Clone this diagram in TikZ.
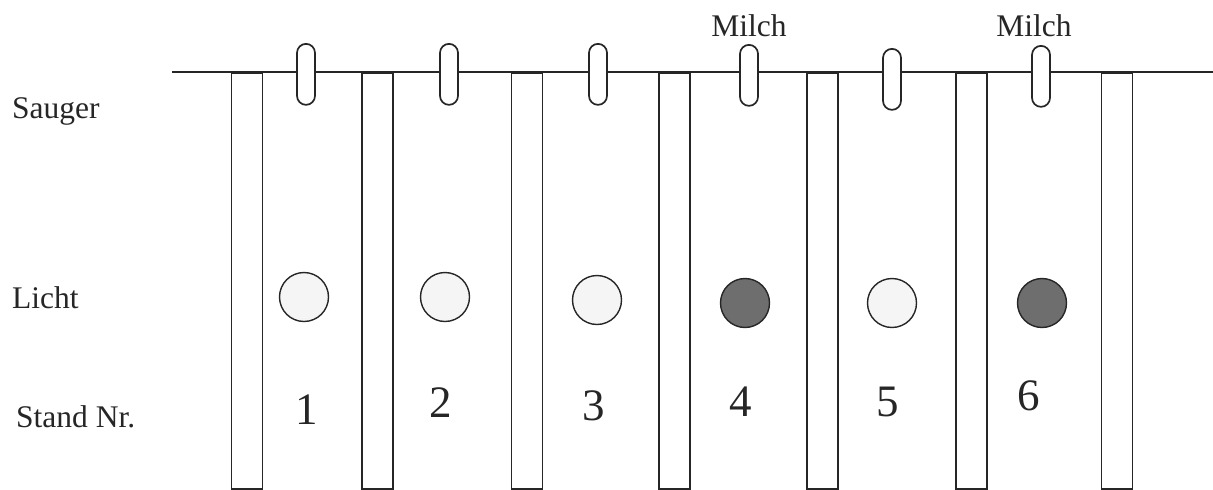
\documentclass[tikz,border=0pt]{standalone}
\usepackage{fontspec}
\setmainfont{Liberation Serif}
\begin{document}
\begin{tikzpicture}[x=1pt,y=-1pt,
  ink/.style={draw=black!85, line width=1.7pt},
  post/.style={ink, fill=white, rectangle, inner sep=0pt, outer sep=0pt, minimum width=31pt, minimum height=416pt, anchor=north},
  teat/.style={ink, fill=white, rectangle, rounded corners=9pt, inner sep=0pt, minimum width=18pt, minimum height=61pt, anchor=north},
  light/.style={draw=black!85, line width=1.4pt, circle, inner sep=0pt, minimum size=49pt},
  off/.style={light, fill=black!4},
  on/.style={light, fill=black!57},
  lbl/.style={font=\fontsize{31.5}{33}\selectfont, text=black!85, inner sep=0pt, anchor=base west},
  num/.style={font=\fontsize{45}{48}\selectfont, text=black!85, inner sep=0pt, anchor=base},
  milch/.style={font=\fontsize{31.5}{33}\selectfont, text=black!85, inner sep=0pt, anchor=base}]
\useasboundingbox (0,0) rectangle (1213,490);
% rail
\coordinate (railL) at (172,72);
\coordinate (railR) at (1213,72);
\draw[ink] (railL) -- (railR);
% posts
\foreach \i/\x in {1/247,2/377.5,3/527,4/674.5,5/822.5,6/971.5,7/1117}
  \node[post] (p\i) at (\x,73) {};
% teats (Sauger)
\node[teat] (s1) at (306,43) {};
\node[teat] (s2) at (449,43) {};
\node[teat] (s3) at (598,43) {};
\node[teat] (s4) at (749,44) {};
\node[teat] (s5) at (892,48) {};
\node[teat] (s6) at (1041,45) {};
% Milch labels
\node[milch] (m4) at (749,36) {Milch};
\node[milch] (m6) at (1034,36) {Milch};
% lights
\node[off] (l1) at (304,297) {};
\node[off] (l2) at (445,297) {};
\node[off] (l3) at (597,300) {};
\node[on]  (l4) at (745,303) {};
\node[off] (l5) at (892,303) {};
\node[on]  (l6) at (1042,303) {};
% numbers
\node[num] (n1) at (307,424) {1};
\node[num] (n2) at (441,417) {2};
\node[num] (n3) at (594,420) {3};
\node[num] (n4) at (741,416) {4};
\node[num] (n5) at (888,416) {5};
\node[num] (n6) at (1029,410) {6};
% row labels
\node[lbl] (tS) at (12,118) {Sauger};
\node[lbl] (tL) at (12,308) {Licht};
\node[lbl] (tN) at (16,427) {Stand Nr.};
\end{tikzpicture}
\end{document}
